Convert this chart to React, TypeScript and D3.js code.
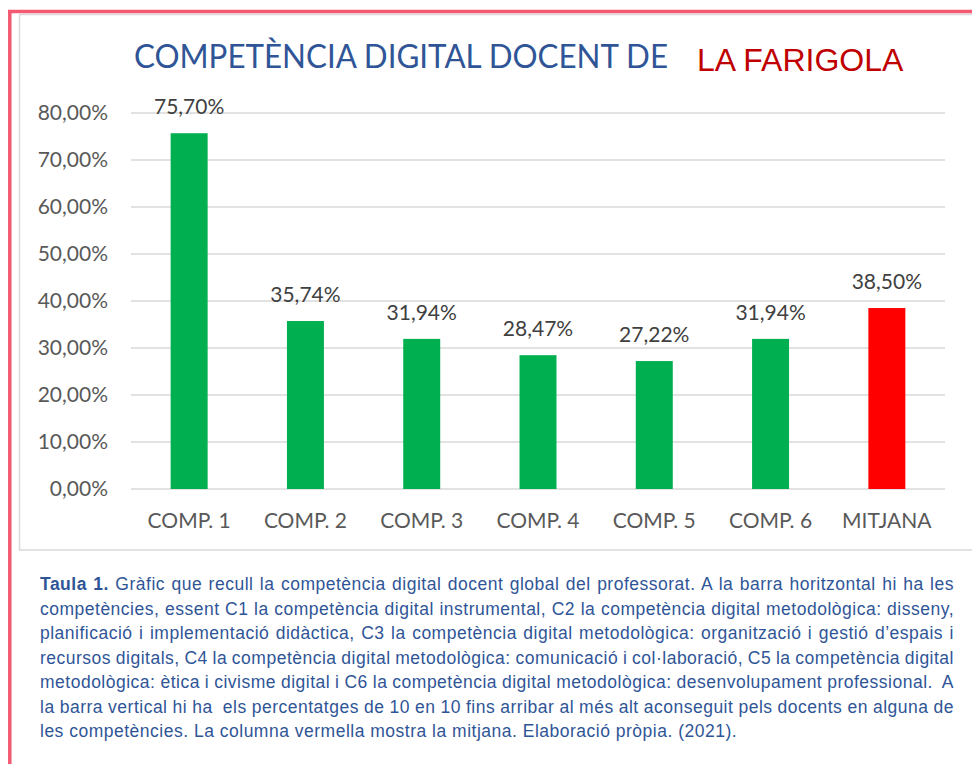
import React, { useLayoutEffect, useRef, useState } from "react";
import * as d3 from "d3";

const categories = ["COMP. 1", "COMP. 2", "COMP. 3", "COMP. 4", "COMP. 5", "COMP. 6", "MITJANA"];
const values = [75.7, 35.74, 31.94, 28.47, 27.22, 31.94, 38.5];
const valueLabels = ["75,70%", "35,74%", "31,94%", "28,47%", "27,22%", "31,94%", "38,50%"];
const barColors = ["#00b050", "#00b050", "#00b050", "#00b050", "#00b050", "#00b050", "#ff0000"];
const yTicks = [0, 10, 20, 30, 40, 50, 60, 70, 80];
const titleMain = "COMPETÈNCIA DIGITAL DOCENT DE";
const titleRed = "LA FARIGOLA";
const captionBold = "Taula 1.";
const captionLines = [
  " Gràfic que recull la competència digital docent global del professorat. A la barra horitzontal hi ha les",
  "competències, essent C1 la competència digital instrumental, C2 la competència digital metodològica: disseny,",
  "planificació i implementació didàctica, C3 la competència digital metodològica: organització i gestió d’espais i",
  "recursos digitals, C4 la competència digital metodològica: comunicació i col·laboració, C5 la competència digital",
  "metodològica: ètica i civisme digital i C6 la competència digital metodològica: desenvolupament professional.  A",
  "la barra vertical hi ha  els percentatges de 10 en 10 fins arribar al més alt aconseguit pels docents en alguna de",
  "les competències. La columna vermella mostra la mitjana. Elaboració pròpia. (2021).",
];

const W = 972;
const H = 764;
const calibri = "Lato, 'Open Sans', sans-serif";
const arial = "'Liberation Sans', Arial, sans-serif";

function Caption() {
  const refs = useRef<(SVGTextElement | null)[]>([]);
  const [spacing, setSpacing] = useState<number[]>(captionLines.map(() => 0));
  const x0 = 40;
  const x1 = 954;
  useLayoutEffect(() => {
    const measure = () => {
      const s = captionLines.map((line, i) => {
        if (i === captionLines.length - 1) return 0;
        const el = refs.current[i];
        if (!el) return 0;
        const prev = el.getAttribute("word-spacing");
        el.setAttribute("word-spacing", "0");
        const w = el.getComputedTextLength();
        if (prev !== null) el.setAttribute("word-spacing", prev);
        const full = i === 0 ? captionBold + line : line;
        const spaces = (full.match(/ /g) || []).length;
        return spaces ? (x1 - x0 - w) / spaces : 0;
      });
      setSpacing(s);
    };
    measure();
    if ((document as any).fonts && (document as any).fonts.ready) {
      (document as any).fonts.ready.then(measure);
    }
  }, []);
  return (
    <g fontFamily={arial} fontSize={17.5} letterSpacing={0.5} fill="#2f5597">
      {captionLines.map((line, i) => (
        <text
          key={i}
          ref={(el) => {
            refs.current[i] = el;
          }}
          x={x0}
          y={590 + i * 24.5}
          wordSpacing={spacing[i]}
          style={{ whiteSpace: "pre" }}
        >
          {i === 0 ? <tspan fontWeight="bold">{captionBold}</tspan> : null}
          {line}
        </text>
      ))}
    </g>
  );
}

export default function App() {
  const x = d3
    .scaleBand<string>()
    .domain(categories)
    .range([131, 945])
    .paddingInner(0.682)
    .paddingOuter(0.341);
  const y = d3.scaleLinear().domain([0, 80]).range([489, 113]);
  const fmt = (v: number) => v.toFixed(2).replace(".", ",") + "%";

  return (
    <svg
      width={W}
      height={H}
      viewBox={`0 0 ${W} ${H}`}
      style={{ position: "absolute", left: 0, top: 0, background: "#ffffff" }}
    >
      <rect x={0} y={0} width={W} height={H} fill="#ffffff" />
      {/* chart area border */}
      <rect x={19.5} y={14.5} width={W + 10} height={535.5} fill="none" stroke="#d9d9d9" strokeWidth={1.5} />
      {/* pink frame */}
      <line x1={8} x2={W} y1={11.5} y2={11.5} stroke="#f25a72" strokeWidth={3.5} />
      <line x1={9.8} x2={9.8} y1={10} y2={H} stroke="#f25a72" strokeWidth={3.5} />

      {/* title */}
      <text
        x={134}
        y={68}
        fontFamily={calibri}
        fontSize={33}
        fill="#2f5597"
        textLength={534}
        lengthAdjust="spacingAndGlyphs"
      >
        {titleMain}
      </text>
      <text x={697} y={71} fontFamily={arial} fontSize={32} fill="#c00000">
        {titleRed}
      </text>

      {/* gridlines */}
      {yTicks.map((t) => (
        <line key={t} x1={131} x2={945} y1={y(t)} y2={y(t)} stroke="#d9d9d9" strokeWidth={1.5} />
      ))}
      {/* y labels */}
      {yTicks.map((t) => (
        <text
          key={"l" + t}
          x={108}
          y={y(t) + 7}
          textAnchor="end"
          fontFamily={calibri}
          fontSize={21}
          fill="#595959"
        >
          {fmt(t)}
        </text>
      ))}
      {/* bars */}
      {categories.map((c, i) => (
        <rect
          key={c}
          x={x(c)!}
          y={y(values[i])}
          width={x.bandwidth()}
          height={y(0) - y(values[i])}
          fill={barColors[i]}
        />
      ))}
      {/* value labels */}
      {categories.map((c, i) => (
        <text
          key={"v" + c}
          x={x(c)! + x.bandwidth() / 2}
          y={y(values[i]) - 19}
          textAnchor="middle"
          fontFamily={calibri}
          fontSize={21}
          fill="#404040"
        >
          {valueLabels[i]}
        </text>
      ))}
      {/* x labels */}
      {categories.map((c) => (
        <text
          key={"x" + c}
          x={x(c)! + x.bandwidth() / 2}
          y={528}
          textAnchor="middle"
          fontFamily={calibri}
          fontSize={21}
          fill="#595959"
        >
          {c}
        </text>
      ))}

      <Caption />
    </svg>
  );
}
